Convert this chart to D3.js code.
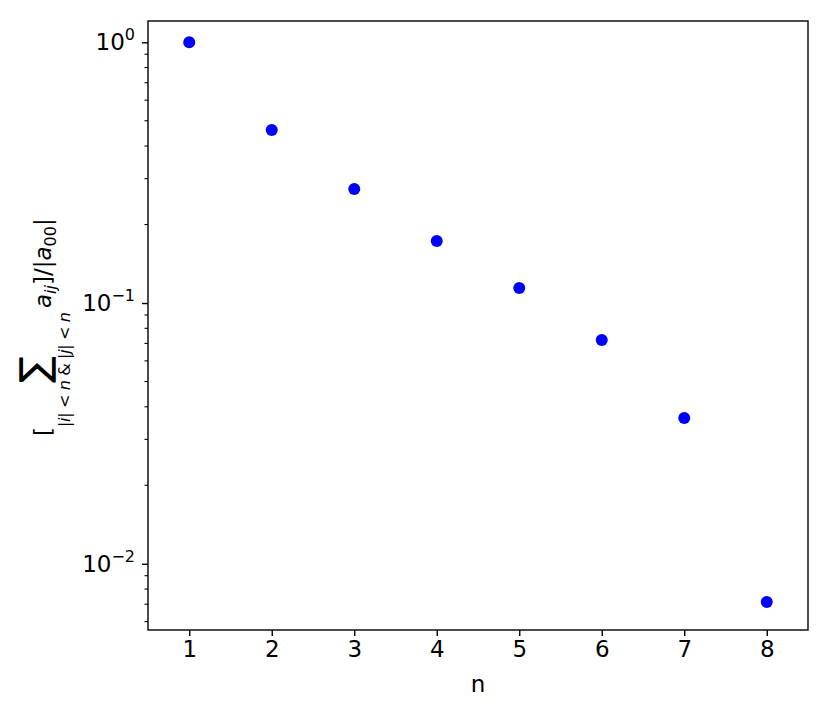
<!DOCTYPE html>
<html><head><meta charset="utf-8">
<script src="https://cdn.jsdelivr.net/npm/d3@7"></script>
<style>body{margin:0;background:#fff}svg{display:block}text{font-family:"DejaVu Sans",sans-serif;fill:#000}</style>
</head><body><div id="chart"></div>
<script>
const nValues = [1, 2, 3, 4, 5, 6, 7, 8];
const ratioValues = [1.0, 0.461, 0.274, 0.173, 0.1142, 0.0722, 0.0362, 0.00713];
const xTicks = [1, 2, 3, 4, 5, 6, 7, 8];
const yMajorExps = [0, -1, -2];
const xLabel = "n";

const W = 830, H = 712;
const m = {left: 148, top: 21, right: 808, bottom: 630};
const svg = d3.select("#chart").append("svg").attr("width", W).attr("height", H);

const x = d3.scaleLinear().domain([0.5, 8.5]).range([m.left, m.right]);
const y = d3.scaleLog().domain([Math.pow(10, -2.254), Math.pow(10, 0.0817)]).range([m.bottom, m.top]);

const FS = 23, SUP = 16;
const col = "#000";

// points
svg.append("g").selectAll("circle").data(nValues).join("circle")
  .attr("cx", (d) => x(d)).attr("cy", (d, i) => y(ratioValues[i])).attr("r", 6).attr("fill", "#0000ff");

// x axis
const xa = svg.append("g").attr("transform", `translate(0,${m.bottom})`)
  .call(d3.axisBottom(x).tickValues(xTicks).tickSize(6).tickPadding(5).tickFormat(d3.format("d")));
xa.select(".domain").remove();
xa.selectAll("line").attr("stroke", col).attr("stroke-width", 1.4);
xa.selectAll("text").attr("font-size", FS).attr("font-family", "DejaVu Sans").attr("fill", col);

// y axis major
const majors = yMajorExps.map(e => Math.pow(10, e));
const ya = svg.append("g").attr("transform", `translate(${m.left},0)`)
  .call(d3.axisLeft(y).tickValues(majors).tickSize(6).tickPadding(7).tickFormat(""));
ya.select(".domain").remove();
ya.selectAll("line").attr("stroke", col).attr("stroke-width", 1.4);
ya.selectAll(".tick").each(function(d, i) {
  const t = d3.select(this).select("text");
  t.attr("font-size", FS).attr("font-family", "DejaVu Sans").attr("dy", "0.32em").attr("text-anchor", "end");
  t.text(null);
  t.append("tspan").text("10");
  t.append("tspan").attr("font-size", SUP).attr("dy", -10).text(yMajorExps[i] === 0 ? "0" : "\u2212" + Math.abs(yMajorExps[i]));
});

// y minor ticks
const minors = [];
[-3, -2, -1, 0].forEach(e => { for (let k = 2; k <= 9; k++) { const v = k * Math.pow(10, e); if (v >= y.domain()[0] && v <= y.domain()[1]) minors.push(v); } });
svg.append("g").selectAll("line").data(minors).join("line")
  .attr("x1", m.left - 3.5).attr("x2", m.left).attr("y1", d => y(d)).attr("y2", d => y(d))
  .attr("stroke", col).attr("stroke-width", 1.1);

// frame
svg.append("rect").attr("x", m.left).attr("y", m.top).attr("width", m.right - m.left).attr("height", m.bottom - m.top)
  .attr("fill", "none").attr("stroke", col).attr("stroke-width", 1.4);

// x label
svg.append("text").attr("x", (m.left + m.right) / 2).attr("y", 692).attr("text-anchor", "middle")
  .attr("font-size", FS).text(xLabel);

// y label (rotated mathtext-like)
const g = svg.append("g").attr("transform", "translate(51,436) rotate(-90)");
g.append("text").attr("x", 0).attr("y", 0).attr("font-size", FS).text("[");
const subStart = 9, subW = 115;
const sub = g.append("text").attr("x", subStart).attr("y", 19).attr("font-size", SUP)
  .attr("textLength", subW).attr("lengthAdjust", "spacing");
[["|", 0], ["i", 1], ["|", 0], [" < ", 0], ["n", 1], [" & ", 0], ["|", 0], ["j", 1], ["|", 0], [" < ", 0], ["n", 1]].forEach(([s, it]) => {
  sub.append("tspan").attr("font-style", it ? "italic" : null).text(s);
});
g.append("text").attr("font-size", 40).attr("text-anchor", "middle").attr("x", subStart + subW / 2).attr("y", -3).text("\u2211");
const main = g.append("text").attr("x", subStart + subW + 4).attr("y", 0).attr("font-size", FS);
main.append("tspan").attr("font-style", "italic").text("a");
main.append("tspan").attr("font-style", "italic").attr("font-size", SUP).attr("dy", 5).text("ij");
main.append("tspan").attr("dy", -5).text("]/|");
main.append("tspan").attr("font-style", "italic").text("a");
main.append("tspan").attr("font-size", SUP).attr("dy", 5).text("00");
main.append("tspan").attr("dy", -5).text("|");
</script></body></html>
